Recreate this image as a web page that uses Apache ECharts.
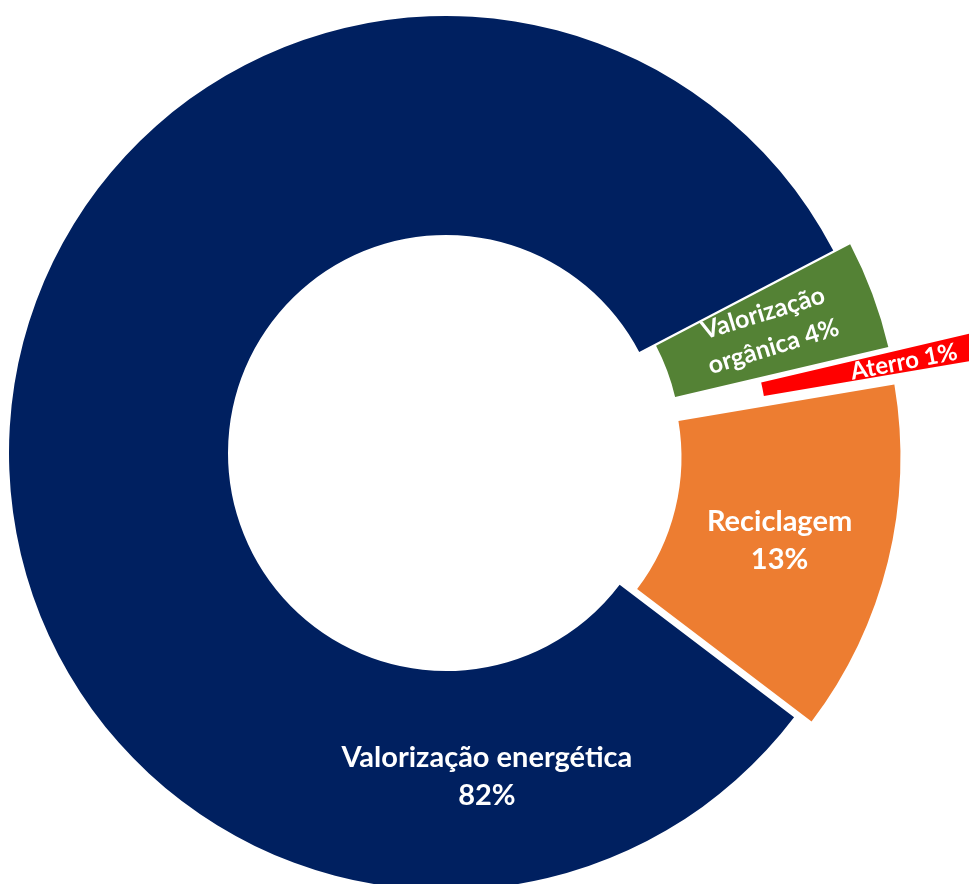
<!DOCTYPE html>
<html>
<head>
<meta charset="utf-8">
<title>Destino dos resíduos</title>
<script src="https://cdn.jsdelivr.net/npm/echarts@6/dist/echarts.min.js"></script>
<style>
  html, body { margin: 0; padding: 0; background: #ffffff; }
  #chart { width: 969px; height: 884px; }
</style>
</head>
<body>
<div id="chart"></div>
<script>
// Slices in clockwise drawing order (percent of total)
const categories = ['Valorização orgânica', 'Aterro', 'Reciclagem', 'Valorização energética'];
const shares = [4, 1, 13, 82];
const colors = ['#548235', '#FF0000', '#ED7D31', '#002060'];

// Label text: name with its own line breaks, and what separates it from the percentage
const labelNames = ['Valorização\norgânica', 'Aterro', 'Reciclagem', 'Valorização energética'];
const labelSeparators = [' ', ' ', '\n', '\n'];

// How far each slice is pulled away from the centre (px)
const explode = [18, 105, 18, 0];

// Label placement around the pie centre: polar angle (deg, counter-clockwise
// from 3 o'clock), distance from the centre (px), text rotation and size
const labelPlacement = [
  { angle: 20.9, dist: 345, rotate: 17, size: 25, lineHeight: 35 },
  { angle: 11.25, dist: 467, rotate: 11, size: 24, lineHeight: 26 },
  { angle: -14.8, dist: 345, rotate: 0, size: 29, lineHeight: 38 },
  { angle: -82.8, dist: 326, rotate: 0, size: 29, lineHeight: 38 }
];

const CX = 446, CY = 453, R_IN = 218, R_OUT = 437, START_ANGLE = 27.6;
const FONT = 'Lato, "Noto Sans", sans-serif';

const chart = echarts.init(document.getElementById('chart'), null, { renderer: 'canvas' });

function baseSeries(off) {
  return {
    type: 'pie',
    center: [CX, CY],
    radius: [R_IN, R_OUT],
    startAngle: START_ANGLE,
    clockwise: true,
    silent: true,
    animation: false,
    avoidLabelOverlap: false,
    selectedMode: 'multiple',
    selectedOffset: off,
    emphasis: { disabled: true },
    labelLine: { show: false }
  };
}

// One pie layer per explode distance; every layer lays out the full data so the
// angles line up, and only the slices belonging to that layer are painted.
const offsets = Array.from(new Set(explode));
const series = offsets.map(function (off) {
  const s = baseSeries(off);
  s.label = { show: false };
  s.data = categories.map(function (name, i) {
    const mine = explode[i] === off;
    const fill = mine ? colors[i] : 'rgba(0,0,0,0)';
    return {
      name: name,
      value: shares[i],
      selected: mine && off > 0,
      itemStyle: { color: fill, borderWidth: 0 },
      select: { itemStyle: { color: fill, borderWidth: 0 } }
    };
  });
  return s;
});

// Label layer: same layout, no fill, labels placed around the centre
const labelLayer = baseSeries(0);
labelLayer.z = 10;
labelLayer.data = categories.map(function (name, i) {
  const p = labelPlacement[i];
  return {
    name: name,
    value: shares[i],
    itemStyle: { color: 'rgba(0,0,0,0)', borderWidth: 0 },
    label: {
      show: true,
      position: 'inside',
      color: '#ffffff',
      fontFamily: FONT,
      fontWeight: 'bold',
      fontSize: p.size,
      lineHeight: p.lineHeight,
      align: 'center'
    }
  };
});
labelLayer.label = {
  formatter: function (params) {
    return labelNames[params.dataIndex] + labelSeparators[params.dataIndex] + params.percent + '%';
  }
};
labelLayer.labelLayout = function (params) {
  const p = labelPlacement[params.dataIndex];
  const a = p.angle * Math.PI / 180;
  return {
    x: CX + p.dist * Math.cos(a),
    y: CY - p.dist * Math.sin(a),
    rotate: p.rotate,
    align: 'center',
    verticalAlign: 'middle'
  };
};
series.push(labelLayer);

chart.setOption({
  backgroundColor: '#ffffff',
  animation: false,
  series: series
});
</script>
</body>
</html>
